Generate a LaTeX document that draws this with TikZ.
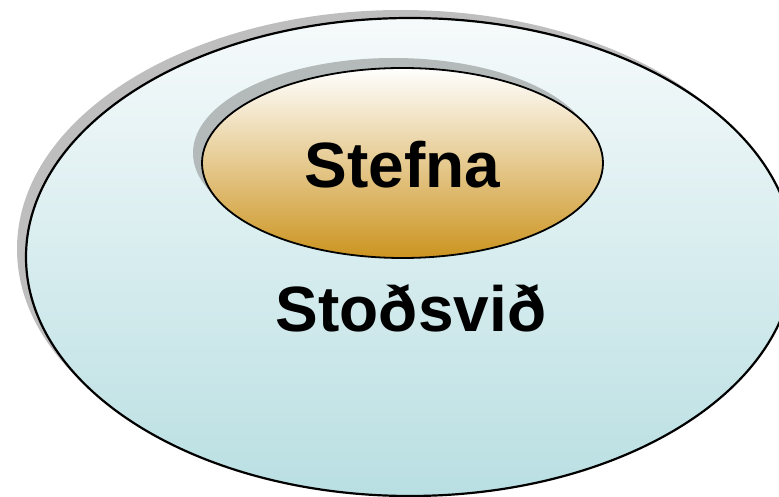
\documentclass[tikz,border=0pt]{standalone}
\usepackage{fontspec}
\setmainfont{Liberation Sans}
\usetikzlibrary{shapes.geometric,shadows}
\definecolor{outtop}{HTML}{F6FAFB}
\definecolor{outmid}{HTML}{E1F0F2}
\definecolor{outbot}{HTML}{B9DFE2}
\definecolor{intop}{HTML}{FFFFFF}
\definecolor{inmid}{HTML}{EAD2BA}
\definecolor{inbot}{HTML}{CC9420}
\definecolor{shadowgray}{HTML}{BEBEBE}
\definecolor{shadowgraytwo}{HTML}{B4B9BA}
\begin{document}
\begin{tikzpicture}[x=1pt,y=1pt,
  blob/.style={ellipse, draw=black, inner sep=0pt, outer sep=0pt},
  bigtext/.style={font=\fontsize{64}{64}\selectfont\bfseries, inner sep=0pt, anchor=base}]
\useasboundingbox (0,0) rectangle (779,-497);
\clip (0,0) rectangle (779,-497);
\node[blob, line width=2.2pt, minimum width=768pt, minimum height=478pt,
  top color=outtop, middle color=outmid, bottom color=outbot,
  drop shadow={shadow xshift=-9pt, shadow yshift=8pt, fill=shadowgray, opacity=1}]
  (outer) at (410,-257) {};
\node[blob, line width=1.8pt, minimum width=401pt, minimum height=190pt,
  top color=intop, middle color=inmid, bottom color=inbot,
  drop shadow={shadow xshift=-9pt, shadow yshift=10pt, fill=shadowgraytwo, opacity=1}]
  (inner) at (402.5,-163) {};
\node[bigtext] (stefna) at (402.5,-188) {Stefna};
\node[bigtext] (stodsvid) at (411,-331) {Stoðsvið};
\end{tikzpicture}
\end{document}
